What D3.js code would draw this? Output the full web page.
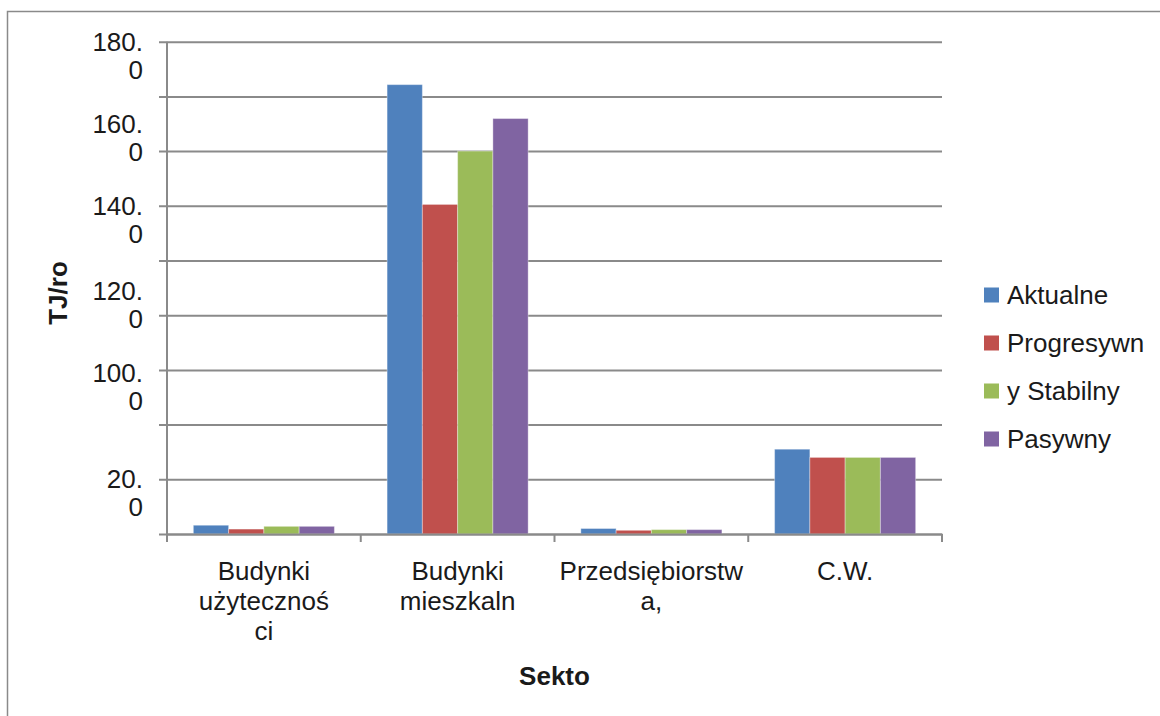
<!DOCTYPE html>
<html>
<head>
<meta charset="utf-8">
<script src="https://cdn.jsdelivr.net/npm/d3@7"></script>
<style>
  body { margin: 0; background: #fff; }
  text { font-family: "Liberation Sans", Arial, sans-serif; fill: #1a1a1a; }
</style>
</head>
<body>
<svg width="1160" height="716"></svg>
<script>
// data
let categories = ["Budynki\nużytecznoś\nci", "Budynki\nmieszkaln", "Przedsiębiorstw\na,", "C.W."];
let seriesNames = ["Aktualne", "Progresywn", "y Stabilny", "Pasywny"];
let aktualne    = [3.2, 164.3, 2.0, 31.0];
let progresywny = [1.8, 120.5, 1.35, 28.0];
let stabilny    = [2.8, 140.0, 1.6, 28.0];
let pasywny     = [2.8, 151.9, 1.6, 28.0];
let colors = ["#4F81BD", "#C0504D", "#9BBB59", "#8064A2"];
// tick labels as they sit in the original (misplaced by the source)
let yTickLabels = ["180.0", "160.0", "140.0", "120.0", "100.0", "20.0"];
let yTickLabelAt = [180, 150, 120, 89, 59, 20];

let allSeries = [aktualne, progresywny, stabilny, pasywny];
let rows = categories.map((c, i) => ({cat: c, vals: allSeries.map(s => s[i])}));

let svg = d3.select("svg");
let fs = 26;

// outer frame
svg.append("rect")
    .attr("x", 7.5).attr("y", 11.5)
    .attr("width", 1300).attr("height", 900)
    .style("fill", "none").style("stroke", "#8a8a8a").style("stroke-width", 1.5);

let plot = {left: 167, right: 942, top: 41.7, bottom: 534};

let y = d3.scaleLinear().domain([0, 180]).range([plot.bottom, plot.top]);
let x0 = d3.scaleBand().domain(categories).range([plot.left, plot.right]);
let gap = x0.bandwidth() * 0.136;
let x1 = d3.scaleBand().domain(seriesNames).range([gap, x0.bandwidth() - gap]);

// gridlines + left ticks
let yAxis = d3.axisLeft(y).tickValues(d3.range(0, 181, 20))
    .tickSize(-(plot.right - plot.left)).tickFormat("");
let gy = svg.append("g").attr("transform", `translate(${plot.left},0)`).call(yAxis);
gy.select(".domain").remove();
gy.selectAll("line").style("stroke", "#8a8a8a").style("stroke-width", 2)
    .attr("x1", -8);

// bars
let groups = svg.selectAll(".grp")
    .data(rows)
    .enter().append("g")
    .attr("class", "grp")
    .attr("transform", d => `translate(${x0(d.cat)},0)`);

groups.selectAll("rect")
    .data(d => d.vals.map((v, i) => ({name: seriesNames[i], v: v, i: i})))
    .enter().append("rect")
    .attr("x", d => x1(d.name))
    .attr("y", d => y(d.v))
    .attr("width", x1.bandwidth())
    .attr("height", d => y(0) - y(d.v))
    .style("fill", d => colors[d.i])
    .style("stroke", "rgba(255,255,255,0.35)")
    .style("stroke-width", 1);

// axis lines
svg.append("line")
    .attr("x1", plot.left).attr("x2", plot.left)
    .attr("y1", plot.top).attr("y2", plot.bottom)
    .style("stroke", "#8a8a8a").style("stroke-width", 2);

let xAxis = d3.axisBottom(x0).tickSizeOuter(0).tickSize(0).tickFormat("");
let gx = svg.append("g").attr("transform", `translate(0,${plot.bottom})`).call(xAxis);
gx.select(".domain").style("stroke", "#8a8a8a").style("stroke-width", 2);
gx.selectAll(".tick").remove();

// category tick marks at band edges
let edges = categories.map(c => x0(c)).concat([plot.right]);
svg.selectAll(".xtick")
    .data(edges)
    .enter().append("line")
    .attr("class", "xtick")
    .attr("x1", d => d).attr("x2", d => d)
    .attr("y1", plot.bottom).attr("y2", plot.bottom + 8)
    .style("stroke", "#8a8a8a").style("stroke-width", 2);

// category labels
let xl = svg.selectAll(".xlab")
    .data(categories)
    .enter().append("text")
    .attr("class", "xlab")
    .attr("text-anchor", "middle")
    .style("font-size", fs + "px");
xl.each(function(c) {
    let t = d3.select(this);
    c.split("\n").forEach((line, i) => {
        t.append("tspan")
            .attr("x", x0(c) + x0.bandwidth() / 2)
            .attr("y", 580 + i * 30)
            .text(line);
    });
});

// y tick labels (two lines each)
svg.selectAll(".ylab")
    .data(yTickLabels)
    .enter().append("text")
    .attr("class", "ylab")
    .attr("text-anchor", "end")
    .style("font-size", fs + "px")
    .each(function(lab, i) {
        let t = d3.select(this);
        let parts = lab.split(".");
        let base = y(yTickLabelAt[i]) + 9;
        t.append("tspan").attr("x", 143).attr("y", base).text(parts[0] + ".");
        t.append("tspan").attr("x", 143).attr("y", base + 28).text(parts[1]);
    });

// axis titles
svg.append("text")
    .attr("transform", `translate(67,293) rotate(-90)`)
    .attr("text-anchor", "middle")
    .style("font-size", fs + "px").style("font-weight", "bold")
    .text("TJ/ro");

svg.append("text")
    .attr("x", (plot.left + plot.right) / 2).attr("y", 685)
    .attr("text-anchor", "middle")
    .style("font-size", fs + "px").style("font-weight", "bold")
    .text("Sekto");

// legend
let legend = svg.selectAll(".leg")
    .data(seriesNames)
    .enter().append("g")
    .attr("class", "leg")
    .attr("transform", (d, i) => `translate(984,${295 + i * 48})`);
legend.append("rect")
    .attr("x", 0).attr("y", -7.5)
    .attr("width", 15).attr("height", 15)
    .style("fill", (d, i) => colors[i]);
legend.append("text")
    .attr("x", 23).attr("y", 9)
    .style("font-size", fs + "px")
    .text(d => d);
</script>
</body>
</html>
